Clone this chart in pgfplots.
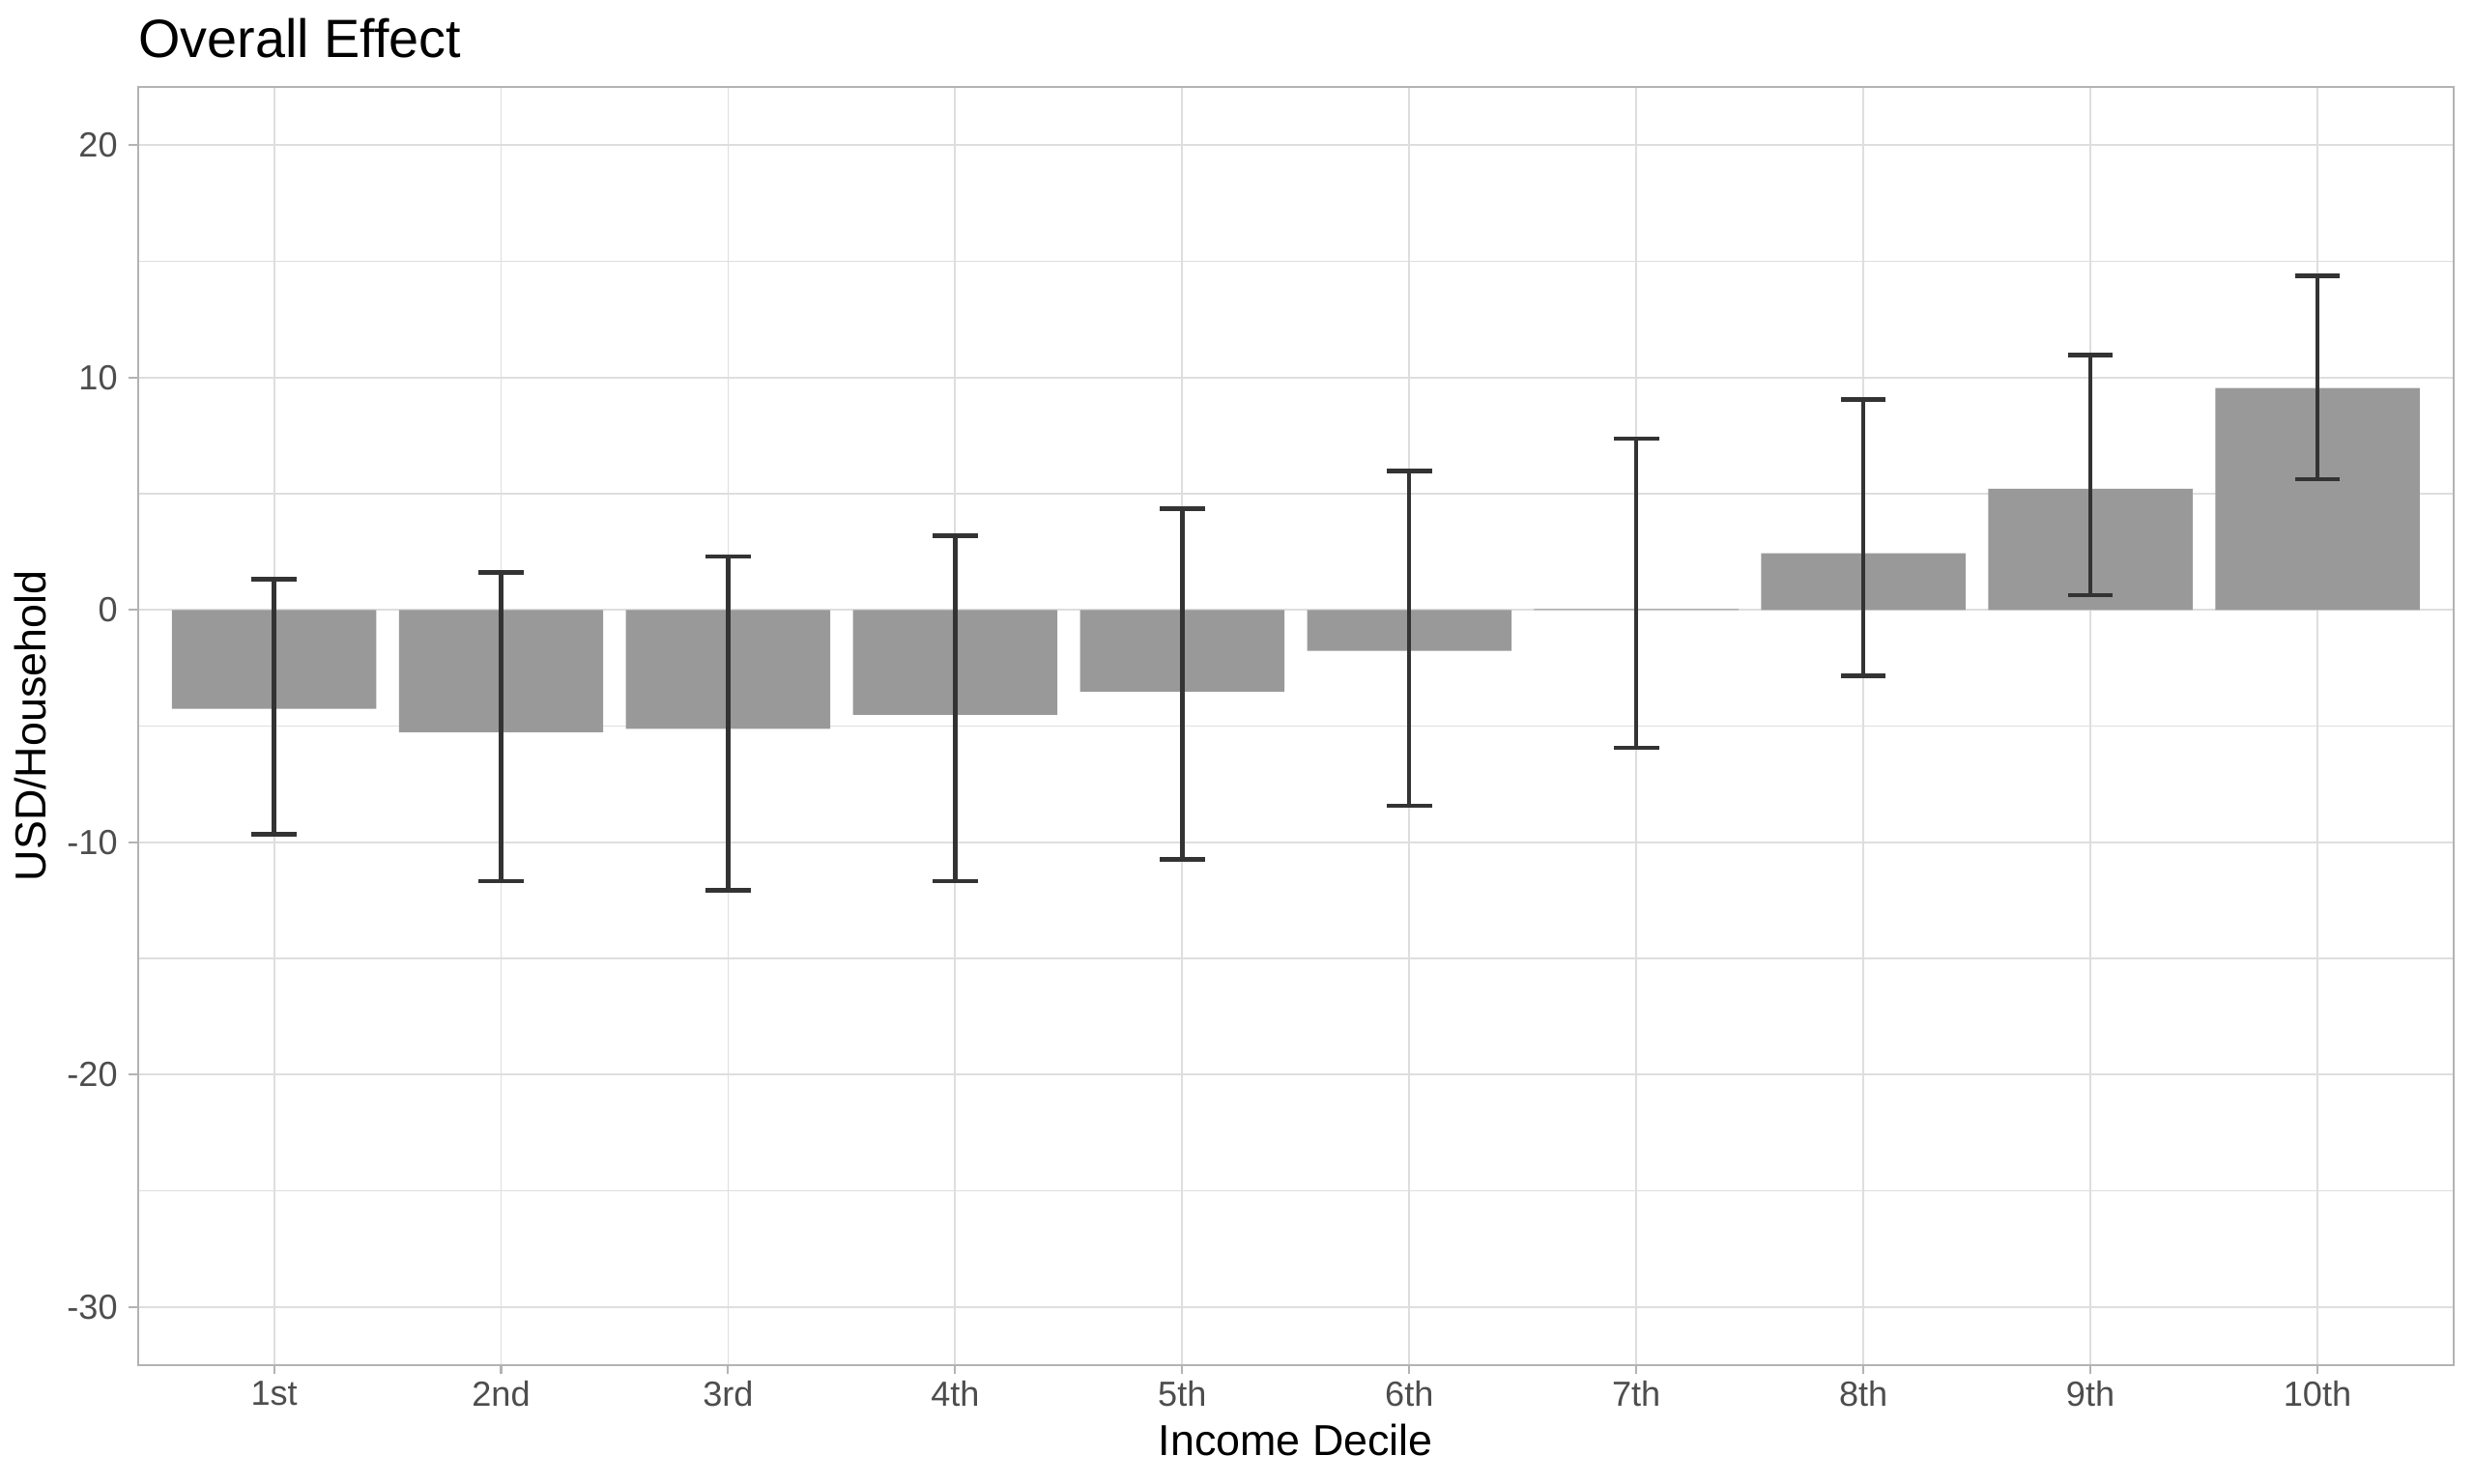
\documentclass[border=0pt]{standalone}
\usepackage{pgfplots}
\pgfplotsset{compat=1.18}
\usepackage{pgfplotstable}
\usepackage{fontspec}
\setmainfont{Liberation Sans}

\definecolor{barfill}{HTML}{999999}
\definecolor{errcol}{HTML}{333333}
\definecolor{gridcol}{HTML}{DEDEDE}
\definecolor{bordercol}{HTML}{B3B3B3}
\definecolor{tickcol}{HTML}{4D4D4D}

% decile, estimate, lower and upper bound of the interval
\pgfplotstableread{
x  y      lo      hi
1  -4.26  -9.65   1.32
2  -5.26  -11.68  1.61
3  -5.12  -12.07  2.30
4  -4.52  -11.68  3.19
5  -3.52  -10.74  4.35
6  -1.76  -8.42   5.97
7  0.04   -5.93   7.38
8  2.44   -2.84   9.05
9  5.21   0.63    10.97
10 9.55   5.63    14.37
}\effects

\begin{document}
\begin{tikzpicture}
  \begin{axis}[
      name=ax,
      scale only axis,
      width=524.2pt, height=289.4pt,
      xmin=0.4, xmax=10.6,
      ymin=-32.5, ymax=22.5,
      ybar, bar width=0.9,
      xtick={1,...,10},
      xticklabels={1st,2nd,3rd,4th,5th,6th,7th,8th,9th,10th},
      ytick={-30,-20,-10,0,10,20},
      minor ytick={-25,-15,-5,5,15},
      xtick pos=left, ytick pos=left,
      tick align=outside,
      major tick length=2pt, minor tick length=0pt,
      tick style={bordercol, line width=0.45pt},
      grid=both,
      major grid style={gridcol, line width=0.4pt},
      minor grid style={gridcol, line width=0.25pt},
      axis line style={bordercol, line width=0.45pt},
      /pgf/number format/assume math mode=true,
      ticklabel style={font=\fontsize{7.9}{9}\selectfont, text=tickcol, inner sep=0pt},
      xticklabel style={anchor=north, yshift=-1.4pt},
      yticklabel style={anchor=east, xshift=-2.4pt},
    ]
    \addplot[fill=barfill, draw=none,
      error bars/.cd, y dir=both, y explicit,
      error bar style={errcol, line width=0.95pt},
      error mark options={rotate=90, errcol, mark size=5.1pt, line width=0.95pt}]
      table[x=x, y=y,
        y error plus expr=\thisrow{hi}-\thisrow{y},
        y error minus expr=\thisrow{y}-\thisrow{lo}] {\effects};
  \end{axis}
  \node[anchor=base west, inner sep=0pt, font=\fontsize{12.2}{14}\selectfont]
    at ([yshift=6.6pt]ax.north west) {Overall Effect};
  \node[anchor=base, inner sep=0pt, font=\fontsize{9.8}{12}\selectfont]
    at ([yshift=-20.5pt]ax.south) {Income Decile};
  \node[anchor=base, rotate=90, inner sep=0pt, font=\fontsize{9.8}{12}\selectfont]
    at ([xshift=-20.7pt]ax.west) {USD/Household};
  \pgfresetboundingbox
  \path[use as bounding box] ([xshift=-31.2pt, yshift=-26.9pt]ax.south west)
    rectangle ([xshift=4.6pt, yshift=19.7pt]ax.north east);
\end{tikzpicture}
\end{document}
